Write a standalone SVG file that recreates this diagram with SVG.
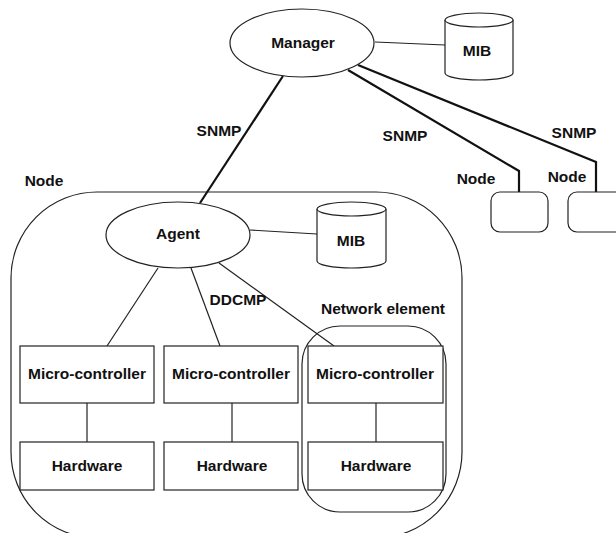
<svg xmlns="http://www.w3.org/2000/svg" width="616" height="533" viewBox="0 0 616 533">
  <style>
    .shape { fill: #ffffff; stroke: #222222; stroke-width: 1.2; }
    .frame { fill: none; stroke: #222222; stroke-width: 1.2; }
    .link { fill: none; stroke: #222222; stroke-width: 1.2; }
    .snmp { fill: none; stroke: #111111; stroke-width: 2.2; stroke-linejoin: miter; }
    .label { font-family: "Liberation Sans", Arial, Helvetica, sans-serif; font-weight: bold; font-size: 15.5px; fill: #111111; text-anchor: middle; dominant-baseline: central; }
  </style>
  <rect width="616" height="533" fill="#ffffff"/>

  <!-- container outlines -->
  <g id="node-local">
    <rect class="frame" x="11" y="192" width="451" height="346" rx="86" ry="86"/>
    <text class="label" x="44" y="180">Node</text>
  </g>
  <g id="network-element">
    <rect class="frame" x="302" y="326" width="144" height="186" rx="38" ry="38"/>
    <text class="label" x="383" y="308">Network element</text>
  </g>

  <!-- connectors -->
  <g id="connectors">
    <line class="link" x1="375" y1="42" x2="445" y2="45"/>
    <line class="link" x1="250" y1="230" x2="317" y2="234"/>
    <line class="link" x1="158" y1="268" x2="107" y2="346"/>
    <line class="link" x1="191" y1="268" x2="220" y2="346"/>
    <line class="link" x1="219" y1="263" x2="334" y2="346"/>
    <line class="link" x1="87" y1="403" x2="87" y2="442"/>
    <line class="link" x1="232" y1="403" x2="232" y2="442"/>
    <line class="link" x1="376" y1="403" x2="376" y2="442"/>
    <line class="snmp" x1="283" y1="76" x2="200" y2="203"/>
    <polyline class="snmp" points="348,70 519,171 519,192"/>
    <polyline class="snmp" points="358,65 596,162 596,192"/>
    <text class="label" x="219" y="130">SNMP</text>
    <text class="label" x="405" y="135">SNMP</text>
    <text class="label" x="574" y="132">SNMP</text>
    <text class="label" x="238" y="299">DDCMP</text>
  </g>

  <!-- manager and its MIB -->
  <g id="manager">
    <ellipse class="shape" cx="302" cy="43" rx="72" ry="34"/>
    <text class="label" x="303" y="42">Manager</text>
  </g>
  <g id="manager-mib">
    <path class="shape" d="M445,20 L445,73 A34,7 0 0 0 513,73 L513,20"/>
    <ellipse class="shape" cx="479" cy="20" rx="34" ry="7"/>
    <text class="label" x="477" y="50">MIB</text>
  </g>

  <!-- remote nodes -->
  <g id="remote-node-1">
    <rect class="shape" x="491" y="192" width="57" height="40" rx="9" ry="9"/>
    <text class="label" x="476" y="178">Node</text>
  </g>
  <g id="remote-node-2">
    <rect class="shape" x="568" y="192" width="60" height="40" rx="9" ry="9"/>
    <text class="label" x="567" y="176">Node</text>
  </g>

  <!-- agent and its MIB -->
  <g id="agent">
    <ellipse class="shape" cx="178" cy="235" rx="72" ry="33"/>
    <text class="label" x="178" y="233">Agent</text>
  </g>
  <g id="agent-mib">
    <path class="shape" d="M317,209 L317,261 A34.5,7 0 0 0 386,261 L386,209"/>
    <ellipse class="shape" cx="351.5" cy="209" rx="34.5" ry="7"/>
    <text class="label" x="351" y="240">MIB</text>
  </g>

  <!-- controllers and hardware -->
  <g id="mc-1">
    <rect class="shape" x="20" y="346" width="134" height="57"/>
    <text class="label" x="87" y="373">Micro-controller</text>
  </g>
  <g id="mc-2">
    <rect class="shape" x="164" y="346" width="134" height="57"/>
    <text class="label" x="231" y="373">Micro-controller</text>
  </g>
  <g id="mc-3">
    <rect class="shape" x="308" y="346" width="135" height="57"/>
    <text class="label" x="375" y="373">Micro-controller</text>
  </g>
  <g id="hw-1">
    <rect class="shape" x="20" y="442" width="134" height="48"/>
    <text class="label" x="87" y="465">Hardware</text>
  </g>
  <g id="hw-2">
    <rect class="shape" x="164" y="442" width="134" height="48"/>
    <text class="label" x="232" y="465">Hardware</text>
  </g>
  <g id="hw-3">
    <rect class="shape" x="308" y="442" width="135" height="48"/>
    <text class="label" x="376" y="465">Hardware</text>
  </g>
</svg>
